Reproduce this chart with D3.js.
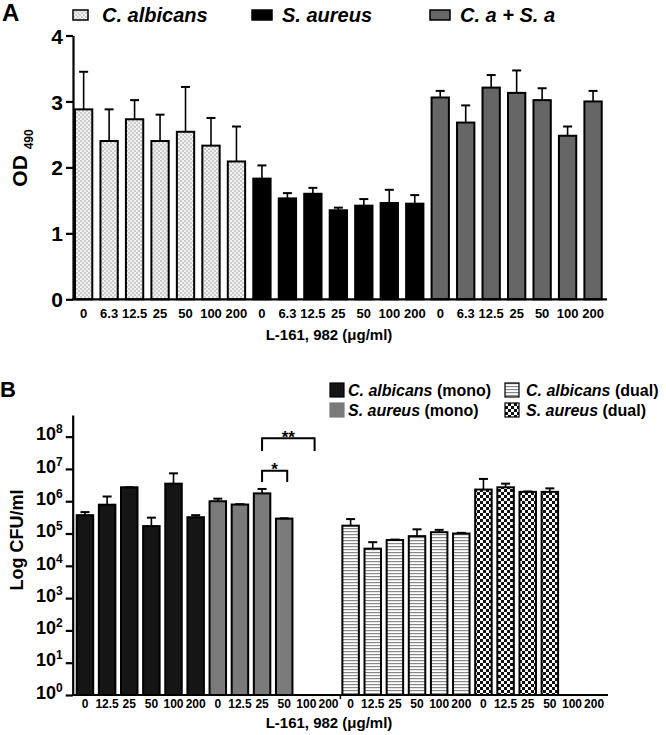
<!DOCTYPE html>
<html>
<head>
<meta charset="utf-8">
<script src="https://cdn.jsdelivr.net/npm/d3@7"></script>
<style>
  body { margin: 0; background: #fff; }
  svg text { font-family: "Liberation Sans", Arial, sans-serif; font-weight: bold; fill: #000; }
</style>
</head>
<body>
<svg id="chart" width="666" height="735"></svg>
<script>
// ---- panel A data (OD 490) ----
var concA = ["0", "6.3", "12.5", "25", "50", "100", "200"]
var odCa = [2.88, 2.40, 2.73, 2.40, 2.54, 2.33, 2.09]
var odCaSd = [0.57, 0.48, 0.29, 0.40, 0.68, 0.42, 0.53]
var odSa = [1.83, 1.53, 1.60, 1.35, 1.42, 1.46, 1.45]
var odSaSd = [0.20, 0.08, 0.09, 0.04, 0.10, 0.20, 0.13]
var odMix = [3.06, 2.68, 3.21, 3.13, 3.02, 2.48, 3.00]
var odMixSd = [0.10, 0.26, 0.19, 0.34, 0.18, 0.14, 0.16]
var groupsA = ["C. albicans", "S. aureus", "C. a + S. a"]
var ticksA = [0, 1, 2, 3, 4]

// ---- panel B data (CFU/ml), 0 = nothing recovered ----
var concB = ["0", "12.5", "25", "50", "100", "200"]
var cfuCaMono = [3.7e5, 7.8e5, 2.7e6, 1.7e5, 3.5e6, 3.2e5]
var cfuCaMonoTop = [4.6e5, 1.4e6, 2.7e6, 3.1e5, 7.3e6, 3.7e5]
var cfuSaMono = [1.0e6, 7.9e5, 1.75e6, 2.9e5, 0, 0]
var cfuSaMonoTop = [1.2e6, 8.1e5, 2.4e6, 2.95e5, 0, 0]
var cfuCaDual = [1.75e5, 3.4e4, 6.3e4, 8.3e4, 1.1e5, 1.0e5]
var cfuCaDualTop = [2.8e5, 5.4e4, 6.5e4, 1.35e5, 1.3e5, 1.05e5]
var cfuSaDual = [2.3e6, 2.7e6, 1.95e6, 1.95e6, 0, 0]
var cfuSaDualTop = [4.9e6, 3.5e6, 2.0e6, 2.5e6, 0, 0]
var groupsB = ["C. albicans|(mono)", "S. aureus|(mono)", "C. albicans|(dual)", "S. aureus|(dual)"]
var ticksB = [1, 10, 100, 1e3, 1e4, 1e5, 1e6, 1e7, 1e8]

var svg = d3.select("#chart")
var defs = svg.append("defs")

// fill patterns
var pDots = defs.append("pattern").attr("id", "dots").attr("patternUnits", "userSpaceOnUse").attr("width", 4).attr("height", 4)
pDots.append("rect").attr("width", 4).attr("height", 4).attr("fill", "#f2f2f2")
pDots.append("circle").attr("cx", 1).attr("cy", 1).attr("r", 0.8).attr("fill", "#9a9a9a")
pDots.append("circle").attr("cx", 3).attr("cy", 3).attr("r", 0.8).attr("fill", "#9a9a9a")

var pLines = defs.append("pattern").attr("id", "hlines").attr("patternUnits", "userSpaceOnUse").attr("width", 4).attr("height", 3)
pLines.append("rect").attr("width", 4).attr("height", 3).attr("fill", "#fff")
pLines.append("rect").attr("width", 4).attr("height", 1.2).attr("fill", "#888")

var pCheck = defs.append("pattern").attr("id", "checker").attr("patternUnits", "userSpaceOnUse").attr("width", 6).attr("height", 6)
pCheck.append("rect").attr("width", 6).attr("height", 6).attr("fill", "#111")
pCheck.append("rect").attr("width", 3).attr("height", 3).attr("fill", "#fff")
pCheck.append("rect").attr("x", 3).attr("y", 3).attr("width", 3).attr("height", 3).attr("fill", "#fff")

var fillsA = ["url(#dots)", "#000", "#666"]
var fillsB = ["#151515", "#7a7a7a", "url(#hlines)", "url(#checker)"]

// ================= PANEL A =================
var rowsA = []
;[odCa, odSa, odMix].forEach(function (vals, g) {
  var sds = [odCaSd, odSaSd, odMixSd][g]
  vals.forEach(function (v, i) {
    rowsA.push({ key: g + "-" + i, label: concA[i], value: v, top: v + sds[i], group: g })
  })
})

var xA = d3.scaleBand().domain(rowsA.map(function (d) { return d.key }))
  .range([70.9, 605.8]).paddingInner(0.32).paddingOuter(0.16)
var yA = d3.scaleLinear().domain([0, 4]).range([299.3, 35.5])

var gA = svg.append("g")

gA.selectAll("rect.bar").data(rowsA).enter().append("rect")
  .attr("class", "bar")
  .attr("x", function (d) { return xA(d.key) })
  .attr("y", function (d) { return yA(d.value) })
  .attr("width", xA.bandwidth())
  .attr("height", function (d) { return yA(0) - yA(d.value) })
  .style("fill", function (d) { return fillsA[d.group] })
  .style("stroke", "#000")
  .style("stroke-width", 2)

// error bars (upper only)
var errA = gA.selectAll("g.err").data(rowsA).enter().append("g").attr("class", "err")
errA.append("line")
  .attr("x1", function (d) { return xA(d.key) + xA.bandwidth() / 2 })
  .attr("x2", function (d) { return xA(d.key) + xA.bandwidth() / 2 })
  .attr("y1", function (d) { return yA(d.value) })
  .attr("y2", function (d) { return yA(d.top) })
  .style("stroke", "#000").style("stroke-width", 1.6)
errA.append("line")
  .attr("x1", function (d) { return xA(d.key) + xA.bandwidth() / 2 - 4.5 })
  .attr("x2", function (d) { return xA(d.key) + xA.bandwidth() / 2 + 4.5 })
  .attr("y1", function (d) { return yA(d.top) })
  .attr("y2", function (d) { return yA(d.top) })
  .style("stroke", "#000").style("stroke-width", 2)

// axes
var axA = gA.append("g").attr("transform", "translate(73,0)")
  .call(d3.axisLeft(yA).tickValues(ticksA).tickFormat(d3.format("d")).tickSize(7).tickSizeOuter(0).tickPadding(3))
axA.selectAll("path, line").style("stroke", "#000").style("stroke-width", 2.2)
axA.selectAll("text").style("font-size", "21px").attr("dy", "0.36em")

var axAx = gA.append("g").attr("transform", "translate(0,299.3)")
  .call(d3.axisBottom(xA).tickSize(0).tickPadding(9).tickFormat(function (k) {
    return rowsA.find(function (d) { return d.key === k }).label
  }))
axAx.select(".domain").remove()
axAx.selectAll("text").style("font-size", "13px")
gA.append("line").attr("x1", 72).attr("x2", 607).attr("y1", 299.3).attr("y2", 299.3)
  .style("stroke", "#000").style("stroke-width", 2.2)

gA.append("text").attr("x", 329).attr("y", 340).attr("text-anchor", "middle")
  .style("font-size", "15px").text("L-161, 982 (\u03bcg/ml)")

var odLabel = gA.append("text").attr("transform", "translate(27,158) rotate(-90)")
  .attr("text-anchor", "middle").style("font-size", "21px")
odLabel.append("tspan").text("OD ")
odLabel.append("tspan").attr("dy", 6).style("font-size", "12px").text("490")

gA.append("text").attr("x", 2).attr("y", 21).style("font-size", "24px").text("A")

// legend A
var legA = gA.selectAll("g.leg").data(groupsA).enter().append("g").attr("class", "leg")
  .attr("transform", function (d, i) { return "translate(" + [73, 252, 430][i] + ",0)" })
legA.append("rect").attr("x", 0).attr("y", 10).attr("width", function (d, i) { return i === 0 ? 15 : 20 }).attr("height", 10)
  .style("fill", function (d, i) { return fillsA[i] }).style("stroke", "#000").style("stroke-width", 1.5)
legA.append("text").attr("x", function (d, i) { return i === 0 ? 29 : 30 }).attr("y", 22)
  .style("font-size", "20px").style("font-style", "italic").text(function (d) { return d })

// ================= PANEL B =================
var rowsB = []
;[cfuCaMono, cfuSaMono, cfuCaDual, cfuSaDual].forEach(function (vals, g) {
  var tops = [cfuCaMonoTop, cfuSaMonoTop, cfuCaDualTop, cfuSaDualTop][g]
  vals.forEach(function (v, i) {
    rowsB.push({ key: g + "-" + i, label: concB[i], value: v, top: tops[i], group: g })
  })
})

var xB = d3.scaleBand().domain(rowsB.map(function (d) { return d.key }))
  .range([72.3, 606.8]).paddingInner(0.255).paddingOuter(0.2)
var yB = d3.scaleLog().domain([1, Math.pow(10, 8.67)]).range([695, 415])

var gB = svg.append("g")
var shown = rowsB.filter(function (d) { return d.value > 0 })

gB.selectAll("rect.bar").data(shown).enter().append("rect")
  .attr("class", "bar")
  .attr("x", function (d) { return xB(d.key) })
  .attr("y", function (d) { return yB(d.value) })
  .attr("width", xB.bandwidth())
  .attr("height", function (d) { return yB(1) - yB(d.value) })
  .style("fill", function (d) { return fillsB[d.group] })
  .style("stroke", "#000")
  .style("stroke-width", 2)

var errB = gB.selectAll("g.err").data(shown).enter().append("g").attr("class", "err")
errB.append("line")
  .attr("x1", function (d) { return xB(d.key) + xB.bandwidth() / 2 })
  .attr("x2", function (d) { return xB(d.key) + xB.bandwidth() / 2 })
  .attr("y1", function (d) { return yB(d.value) })
  .attr("y2", function (d) { return yB(d.top) })
  .style("stroke", "#000").style("stroke-width", 1.6)
errB.append("line")
  .attr("x1", function (d) { return xB(d.key) + xB.bandwidth() / 2 - 4.5 })
  .attr("x2", function (d) { return xB(d.key) + xB.bandwidth() / 2 + 4.5 })
  .attr("y1", function (d) { return yB(d.top) })
  .attr("y2", function (d) { return yB(d.top) })
  .style("stroke", "#000").style("stroke-width", 2)

var axB = gB.append("g").attr("transform", "translate(72.7,0)")
  .call(d3.axisLeft(yB).tickValues(ticksB).tickFormat("").tickSize(7).tickSizeOuter(0))
axB.selectAll("path, line").style("stroke", "#000").style("stroke-width", 2.2)
axB.selectAll(".tick").append("text")
  .attr("x", -10).attr("dy", "0.32em").attr("text-anchor", "end")
  .each(function (d) {
    var t = d3.select(this)
    t.append("tspan").style("font-size", "18px").text("10")
    t.append("tspan").attr("dy", -7).style("font-size", "12px").text(Math.round(Math.log10(d)))
  })

var axBx = gB.append("g").attr("transform", "translate(0,695)")
  .call(d3.axisBottom(xB).tickSize(0).tickPadding(4).tickFormat(function (k) {
    return rowsB.find(function (d) { return d.key === k }).label
  }))
axBx.select(".domain").remove()
axBx.selectAll("text").style("font-size", "12px")
gB.append("line").attr("x1", 72).attr("x2", 608).attr("y1", 695).attr("y2", 695)
  .style("stroke", "#000").style("stroke-width", 2.2)
// small separator tick before the dual cultures
var sepX = xB("2-0") - 2
gB.append("line").attr("x1", sepX).attr("x2", sepX).attr("y1", 695).attr("y2", 699)
  .style("stroke", "#000").style("stroke-width", 1.5)

gB.append("text").attr("x", 329).attr("y", 728).attr("text-anchor", "middle")
  .style("font-size", "15px").text("L-161, 982 (\u03bcg/ml)")

gB.append("text").attr("transform", "translate(23,540) rotate(-90)")
  .attr("text-anchor", "middle").style("font-size", "18px").text("Log CFU/ml")

gB.append("text").attr("x", 0).attr("y", 397).style("font-size", "22px").text("B")

// significance brackets
function bracket(k1, k2, off, yTop, yLeg, label, labelY) {
  var x1 = xB(k1) + xB.bandwidth() / 2
  var x2 = xB(k2) + off
  gB.append("path")
    .attr("d", "M" + x1 + "," + yLeg + "V" + yTop + "H" + x2 + "V" + yLeg)
    .style("fill", "none").style("stroke", "#000").style("stroke-width", 2)
  gB.append("text").attr("x", (x1 + x2) / 2).attr("y", labelY).attr("text-anchor", "middle")
    .style("font-size", "17px").text(label)
}
bracket("1-2", "1-3", xB.bandwidth() / 2 + 3, 470.7, 482, "*", 475)
bracket("1-2", "1-4", xB.bandwidth(), 438.3, 451, "**", 443)

// legend B
var legB = gB.selectAll("g.leg").data(groupsB).enter().append("g").attr("class", "leg")
  .attr("transform", function (d, i) {
    return "translate(" + (i < 2 ? 330 : 505) + "," + (i % 2 === 0 ? 383 : 403) + ")"
  })
legB.append("rect").attr("width", 14).attr("height", 14)
  .style("fill", function (d, i) { return fillsB[i] })
  .style("stroke", function (d, i) { return i === 1 ? "#7a7a7a" : "#000" }).style("stroke-width", 1.2)
var legBText = legB.append("text").attr("x", function (d, i) { return i < 2 ? 18 : 21 }).attr("y", 13)
  .style("font-size", "16px")
legBText.append("tspan").style("font-style", "italic").text(function (d) { return d.split("|")[0] + " " })
legBText.append("tspan").text(function (d) { return d.split("|")[1] })
</script>
</body>
</html>
